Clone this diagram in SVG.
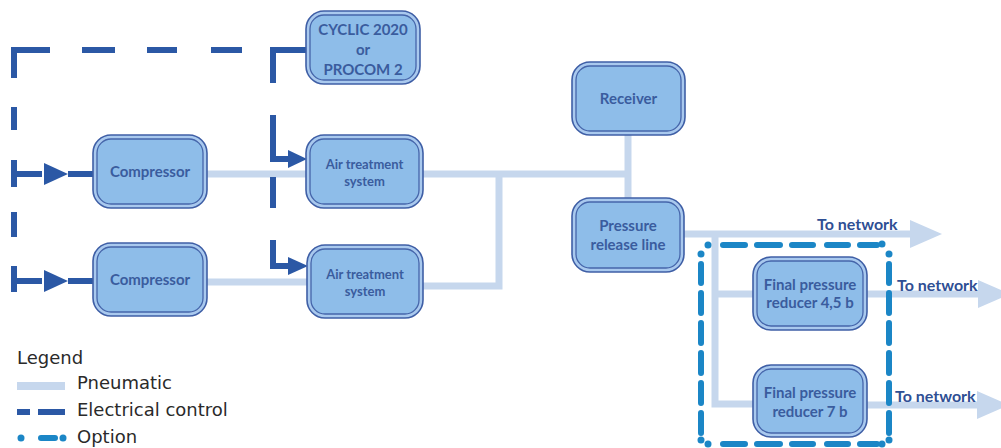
<svg xmlns="http://www.w3.org/2000/svg" width="1001" height="448" viewBox="0 0 1001 448">
<style>
.o{fill:#a9c9ee;stroke:#3f5fa6;stroke-width:1.6}
.i{fill:#8ebde9;stroke:#4565aa;stroke-width:1.3}
.t{font-family:Lato,"Liberation Sans",sans-serif;font-weight:bold;font-size:15px;fill:#3a5c9e;text-anchor:middle}
.s{font-size:13px}
.net{font-family:Lato,"Liberation Sans",sans-serif;font-weight:bold;font-size:16px;fill:#2f4f94}
.pn{fill:none;stroke:#c6d7ed;stroke-width:7}
.pa{fill:#c6d7ed}
.el{fill:none;stroke:#2b58a5;stroke-width:6}
.ea{fill:#2b58a5}
.op{fill:none;stroke:#1b86c6;stroke-width:6;stroke-linecap:round}
.od{fill:#1b86c6}
.lg{font-family:"DejaVu Sans",sans-serif;font-size:18px;fill:#2a2a2a}
</style>

<g id="connectors">
  <!-- pneumatic -->
  <path class="pn" d="M207,174 H306"/>
  <path class="pn" d="M207,282 H307"/>
  <path class="pn" d="M423,174 H628"/>
  <path class="pn" d="M423,286 H499 V174"/>
  <path class="pn" d="M628,135 V198"/>
  <path class="pn" d="M684,234 H912"/>
  <polygon class="pa" points="910,220 942,234 910,248"/>
  <path class="pn" d="M715,234 V404 H753"/>
  <path class="pn" d="M715,294 H753"/>
  <path class="pn" d="M867,294 H980"/>
  <polygon class="pa" points="978,280 1010,294 978,308"/>
  <path class="pn" d="M867,405 H980"/>
  <polygon class="pa" points="977,391 1009,405 977,419"/>
  <!-- electrical control -->
  <path class="el" d="M14,78 V50 H50"/>
  <path class="el" d="M82,50 H115 M147,50 H177 M211,50 H242"/>
  <path class="el" d="M306,50 H273 V83"/>
  <path class="el" d="M14,107 V130 M14,212 V237"/>
  <path class="el" d="M14,160 V187 M14,174 H42 M68,174 H93"/>
  <polygon class="ea" points="44,163 68,174 44,185"/>
  <path class="el" d="M14,266 V292 M14,281 H42 M68,281 H93"/>
  <polygon class="ea" points="44,270 68,281 44,292"/>
  <path class="el" d="M273,115 V159 H290"/>
  <polygon class="ea" points="288,150 307,159 288,168"/>
  <path class="el" d="M273,177 V208"/>
  <path class="el" d="M273,240 V266 H290"/>
  <polygon class="ea" points="288,257 308,266 288,275"/>
</g>

<g id="option-box">
  <path class="op" d="M723,245 H745 M757,245 H780 M792,245 H813 M827,245 H848 M860,245 H877"/>
  <path class="op" d="M701,264 V283 M701,293 V313 M701,323 V343 M701,353 V373 M701,383 V403 M701,413 V433"/>
  <path class="op" d="M889,264 V283 M889,293 V313 M889,323 V343 M889,353 V373 M889,383 V403 M889,413 V433"/>
  <path class="op" d="M723,444 H745 M757,444 H780 M792,444 H813 M827,444 H848 M860,444 H877"/>
  <circle class="od" cx="708" cy="245" r="3.5"/>
  <circle class="od" cx="701" cy="254" r="3.5"/>
  <circle class="od" cx="882" cy="244" r="3.5"/>
  <circle class="od" cx="889" cy="254" r="3.5"/>
  <circle class="od" cx="701" cy="440" r="3.5"/>
  <circle class="od" cx="708" cy="444" r="3.5"/>
  <circle class="od" cx="882" cy="444" r="3.5"/>
  <circle class="od" cx="889" cy="440" r="3.5"/>
</g>

<g id="cyclic">
  <rect class="o" x="306" y="11" width="114" height="73" rx="18"/>
  <rect class="i" x="310" y="15" width="106" height="65" rx="14"/>
  <text class="t" x="363" y="35">CYCLIC 2020</text>
  <text class="t" x="363" y="55">or</text>
  <text class="t" x="363" y="75">PROCOM 2</text>
</g>

<g id="compressor1">
  <rect class="o" x="93" y="135" width="114" height="73" rx="18"/>
  <rect class="i" x="97" y="139" width="106" height="65" rx="14"/>
  <text class="t" x="150" y="177">Compressor</text>
</g>

<g id="compressor2">
  <rect class="o" x="93" y="243" width="114" height="73" rx="18"/>
  <rect class="i" x="97" y="247" width="106" height="65" rx="14"/>
  <text class="t" x="150" y="285">Compressor</text>
</g>

<g id="air1">
  <rect class="o" x="306" y="135" width="117" height="73" rx="18"/>
  <rect class="i" x="310" y="139" width="109" height="65" rx="14"/>
  <text class="t s" x="364.5" y="169">Air treatment</text>
  <text class="t s" x="364.5" y="186">system</text>
</g>

<g id="air2">
  <rect class="o" x="307" y="245" width="116" height="73" rx="18"/>
  <rect class="i" x="311" y="249" width="108" height="65" rx="14"/>
  <text class="t s" x="365" y="279">Air treatment</text>
  <text class="t s" x="365" y="296">system</text>
</g>

<g id="receiver">
  <rect class="o" x="572" y="62" width="113" height="73" rx="18"/>
  <rect class="i" x="576" y="66" width="105" height="65" rx="14"/>
  <text class="t" x="628.5" y="104">Receiver</text>
</g>

<g id="pressure-release">
  <rect class="o" x="572" y="198" width="112" height="74" rx="18"/>
  <rect class="i" x="576" y="202" width="104" height="66" rx="14"/>
  <text class="t" x="628" y="231">Pressure</text>
  <text class="t" x="628" y="250">release line</text>
</g>

<g id="fpr45">
  <rect class="o" x="753" y="257" width="114" height="73" rx="18"/>
  <rect class="i" x="757" y="261" width="106" height="65" rx="14"/>
  <text class="t" x="810" y="290">Final pressure</text>
  <text class="t" x="810" y="308">reducer 4,5 b</text>
</g>

<g id="fpr7">
  <rect class="o" x="753" y="365" width="114" height="72" rx="18"/>
  <rect class="i" x="757" y="369" width="106" height="64" rx="14"/>
  <text class="t" x="810" y="398">Final pressure</text>
  <text class="t" x="810" y="417">reducer 7 b</text>
</g>

<g id="labels">
  <text class="net" x="817" y="230">To network</text>
  <text class="net" x="897" y="291">To network</text>
  <text class="net" x="895" y="402">To network</text>
</g>

<g id="legend">
  <text class="lg" x="17" y="364">Legend</text>
  <rect x="17" y="382" width="48" height="8" fill="#c6d7ed"/>
  <text class="lg" x="77" y="389">Pneumatic</text>
  <path class="el" d="M17,412 H30 M38,412 H65"/>
  <text class="lg" x="77" y="416">Electrical control</text>
  <circle class="od" cx="21" cy="438" r="3.5"/>
  <path class="op" d="M41,438 H55"/>
  <circle class="od" cx="63" cy="438" r="3.5"/>
  <text class="lg" x="77" y="443">Option</text>
</g>
</svg>
